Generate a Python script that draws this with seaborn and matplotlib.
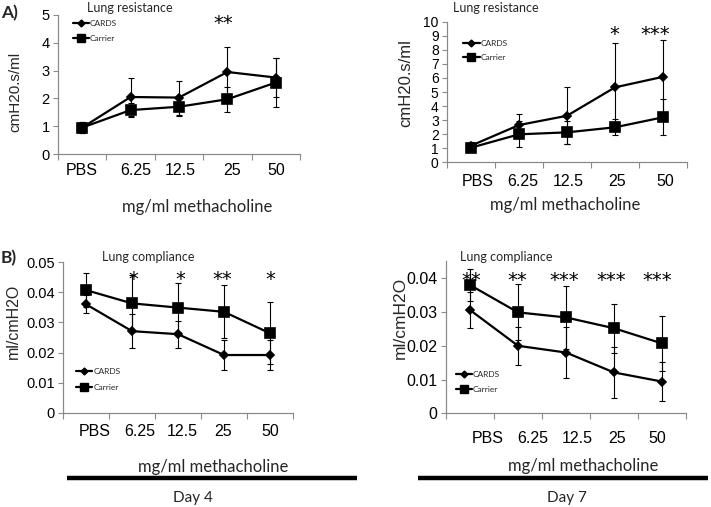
import matplotlib
matplotlib.use("Agg")
import matplotlib.pyplot as plt
import seaborn as sns
import numpy as np
import pandas as pd
from matplotlib.lines import Line2D
from matplotlib.transforms import ScaledTranslation, blended_transform_factory
from matplotlib.ticker import FuncFormatter

# ---------------- data ----------------
doses = ["PBS", "6.25", "12.5", "25", "50"]
groups = ["CARDS", "Carrier"]

# A) Lung resistance, day 4
res_d4_cards = [0.95, 2.05, 2.03, 2.95, 2.75]
res_d4_cards_err = [0.20, 0.70, 0.61, 0.90, 0.70]
res_d4_carrier = [0.95, 1.58, 1.70, 1.97, 2.57]
res_d4_carrier_err = [0.20, 0.26, 0.33, 0.45, 0.87]
res_d4_stars = ["", "", "", "**", ""]

# A) Lung resistance, day 7
res_d7_cards = [1.18, 2.65, 3.31, 5.33, 6.08]
res_d7_cards_err = [0.29, 0.78, 2.02, 3.13, 2.61]
res_d7_carrier = [1.04, 1.99, 2.13, 2.49, 3.20]
res_d7_carrier_err = [0.30, 0.92, 0.83, 0.58, 1.29]
res_d7_stars = ["", "", "", "*", "***"]

# B) Lung compliance, day 4
comp_d4_cards = [0.0360, 0.0271, 0.0261, 0.0192, 0.0192]
comp_d4_cards_err = [0.0030, 0.0057, 0.0045, 0.0050, 0.0050]
comp_d4_carrier = [0.0407, 0.0363, 0.0349, 0.0335, 0.0264]
comp_d4_carrier_err = [0.0057, 0.0094, 0.0080, 0.0088, 0.0102]
comp_d4_stars = ["", "*", "*", "**", "*"]

# B) Lung compliance, day 7
comp_d7_cards = [0.0306, 0.0200, 0.0180, 0.0121, 0.0094]
comp_d7_cards_err = [0.0054, 0.0057, 0.0076, 0.0075, 0.0058]
comp_d7_carrier = [0.0380, 0.0299, 0.0284, 0.0252, 0.0207]
comp_d7_carrier_err = [0.0047, 0.0083, 0.0094, 0.0072, 0.0082]
comp_d7_stars = ["**", "**", "***", "***", "***"]

# ---------------- style ----------------
sns.set_style("ticks")
plt.rcParams["font.family"] = ["Liberation Sans", "DejaVu Sans"]
GREY = "#8a8a8a"
CAL = ["Lato", "DejaVu Sans"]
W, H = 711, 507

fig = plt.figure(figsize=(W / 100, H / 100), dpi=100)


def rect(x0, x1, ytop, ybot):
    return [x0 / W, 1 - ybot / H, (x1 - x0) / W, (ybot - ytop) / H]


def panel(box, cards, cards_err, carrier, carrier_err, ymax, ytop, ytick_fs,
          xpad, label_dx, stars, star_y, star_dx, leg_anchor, leg_space):
    ax = fig.add_axes(rect(*box))
    df = pd.DataFrame({
        "dose": doses * 2,
        "group": [groups[0]] * len(doses) + [groups[1]] * len(doses),
        "value": cards + carrier,
    })
    pos = np.arange(len(doses))
    # error bars (behind lines)
    ax.errorbar(pos, cards, yerr=cards_err, fmt="none", ecolor="black",
                elinewidth=0.8, capsize=2.5, capthick=0.8, zorder=1)
    ax.errorbar(pos, carrier, yerr=carrier_err, fmt="none", ecolor="black",
                elinewidth=0.8, capsize=2.5, capthick=0.8, zorder=1)
    for g, mk, ms in [(groups[0], "D", 4.5), (groups[1], "s", 7.3)]:
        sub = df[df["group"] == g]
        sns.pointplot(data=sub, x="dose", y="value", order=doses, color="black",
                      marker=mk, markersize=ms, linewidth=1.6, errorbar=None, ax=ax)
    ax.set_xlim(-0.5, len(doses) - 0.5)
    ax.set_ylim(0, ymax)
    ax.set_yticks(ytop)
    ax.yaxis.set_major_formatter(FuncFormatter(lambda v, p: "%g" % round(v, 4)))
    ax.set_xlabel("")
    ax.set_ylabel("")
    for s in ["top", "right"]:
        ax.spines[s].set_visible(False)
    for s in ["left", "bottom"]:
        ax.spines[s].set_color(GREY)
        ax.spines[s].set_linewidth(0.9)
    ax.set_xticks(pos)
    ax.set_xticklabels(doses)
    ax.set_xticks(np.arange(len(doses) + 1) - 0.5, minor=True)
    ax.tick_params(axis="x", which="major", length=0, pad=xpad, labelsize=11.5,
                   labelcolor="black")
    ax.tick_params(axis="x", which="minor", length=4, width=0.8, color=GREY,
                   direction="out")
    ax.tick_params(axis="y", length=3.5, width=0.8, color=GREY, direction="out",
                   pad=2.5, labelsize=ytick_fs, labelcolor="black")
    for lab, dx in zip(ax.get_xticklabels(), label_dx):
        lab.set_transform(lab.get_transform() +
                          ScaledTranslation(dx * 0.72 / 72, 0, fig.dpi_scale_trans))
    # significance stars
    tr = blended_transform_factory(ax.transData, ax.transAxes)
    for i, (st, dx) in enumerate(zip(stars, star_dx)):
        if st:
            t = ax.text(i, star_y, st, transform=tr, ha="center", va="center",
                        fontsize=14, color="black", family="DejaVu Sans")
            t.set_transform(tr + ScaledTranslation(dx * 0.72 / 72, 0, fig.dpi_scale_trans))
    # legend
    handles = [
        Line2D([], [], color="black", marker="D", markersize=3.5, linewidth=1.6),
        Line2D([], [], color="black", marker="s", markersize=5.5, linewidth=1.6),
    ]
    ax.legend(handles, groups, loc="upper left", bbox_to_anchor=leg_anchor,
              frameon=False, prop={"family": CAL, "size": 6}, handlelength=2.0,
              handletextpad=0.1, labelspacing=leg_space, borderpad=0,
              borderaxespad=0)
    return ax


# A left
panel((58, 300, 15, 154), res_d4_cards, res_d4_cards_err, res_d4_carrier,
      res_d4_carrier_err, 5, np.arange(0, 6, 1), 10.5, 6.5,
      [0, 5, 1, 5, 0], res_d4_stars, 0.937, [0, 0, 0, -4, 0],
      (0.06, 0.965), 1.0)
# A right
panel((447, 687, 21.7, 162.3), res_d7_cards, res_d7_cards_err, res_d7_carrier,
      res_d7_carrier_err, 10, np.arange(0, 11, 1), 10, 8.4,
      [7, 4, 1, 2, 2], res_d7_stars, 0.907, [0, 0, 0, -1, -8],
      (0.067, 0.87), 0.8)
# B left
panel((63, 293, 262, 413), comp_d4_cards, comp_d4_cards_err, comp_d4_carrier,
      comp_d4_carrier_err, 0.05, np.arange(0, 0.051, 0.01), 10.5, 8,
      [9, 8, 4, -1, 0], comp_d4_stars, 0.883, [0, 1, 2, -2, 0],
      (0.055, 0.30), 1.15)
# B right
panel((446, 686, 261.4, 413.3), comp_d7_cards, comp_d7_cards_err, comp_d7_carrier,
      comp_d7_carrier_err, 0.045, np.arange(0, 0.041, 0.01), 11.5, 13,
      [18, 15, 11, 3, -5], comp_d7_stars, 0.873, [1, -1, -2, -3, -5],
      (0.04, 0.28), 1.0)


def ftext(x, y, s, **kw):
    fig.text(x / W, 1 - y / H, s, **kw)


# panel letters
ftext(1, 13, "A)", fontsize=12.5, fontweight="bold", family=CAL, ha="left", va="center")
ftext(1, 258, "B)", fontsize=12.5, fontweight="bold", family=CAL, ha="left", va="center")
# titles
ftext(87, 8, "Lung resistance", fontsize=9, family=CAL, ha="left", va="center")
ftext(453, 8, "Lung resistance", fontsize=9, family=CAL, ha="left", va="center")
ftext(102, 257, "Lung compliance", fontsize=9, family=CAL, ha="left", va="center")
ftext(460, 257, "Lung compliance", fontsize=9, family=CAL, ha="left", va="center")
# y labels
ftext(15.5, 92, "cmH20.s/ml", fontsize=11, rotation=90, ha="center", va="center")
ftext(406, 83, "cmH20.s/ml", fontsize=12, rotation=90, ha="center", va="center")
ftext(13, 321, "ml/cmH2O", fontsize=11.5, rotation=90, ha="center", va="center")
ftext(400, 318, "ml/cmH2O", fontsize=12.5, rotation=90, ha="center", va="center")
# x labels
ftext(197, 207, "mg/ml methacholine", fontsize=12, family=CAL, ha="center", va="center")
ftext(565, 205, "mg/ml methacholine", fontsize=12, family=CAL, ha="center", va="center")
ftext(213, 467, "mg/ml methacholine", fontsize=12, family=CAL, ha="center", va="center")
ftext(583, 466, "mg/ml methacholine", fontsize=12, family=CAL, ha="center", va="center")
# day bars
for x0, x1 in [(67, 357), (418, 708)]:
    fig.add_artist(Line2D([x0 / W, x1 / W], [1 - 478 / H, 1 - 478 / H],
                          color="black", linewidth=3.2, solid_capstyle="butt"))
ftext(193, 498, "Day 4", fontsize=11, family=CAL, ha="center", va="center")
ftext(567, 498, "Day 7", fontsize=11, family=CAL, ha="center", va="center")

fig.savefig("out.png", dpi=100)
